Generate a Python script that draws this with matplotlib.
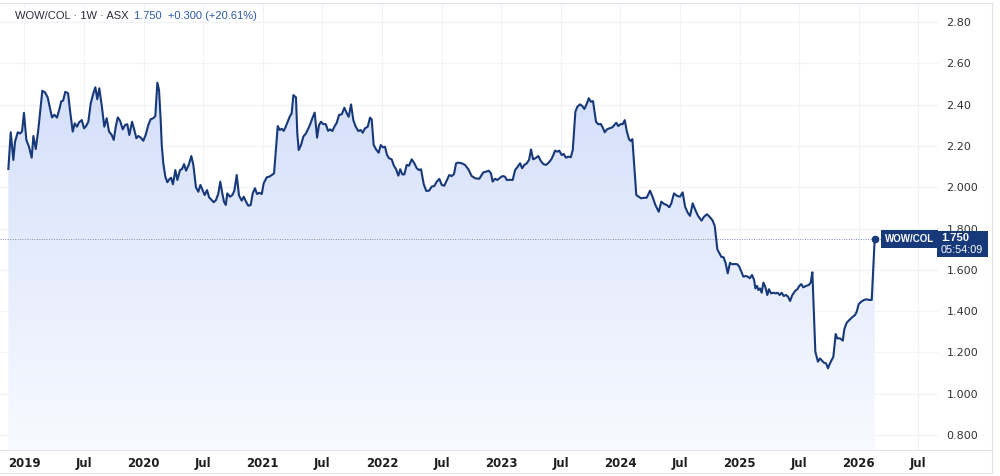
"""
WOW/COL weekly ratio chart (ASX), TradingView-style area plot
"""
import matplotlib
matplotlib.use('Agg')
import matplotlib.pyplot as plt
import numpy as np
from matplotlib.colors import LinearSegmentedColormap
from matplotlib.lines import Line2D
from matplotlib.patches import Rectangle
from matplotlib.transforms import IdentityTransform

# weekly closes, x as decimal year
dates = [
    2018.866, 2018.886, 2018.908, 2018.922, 2018.945, 2018.964, 2018.981, 2018.997,
    2019.017, 2019.039, 2019.062, 2019.076, 2019.096, 2019.117, 2019.134, 2019.151,
    2019.174, 2019.196, 2019.216, 2019.232, 2019.252, 2019.274, 2019.294, 2019.310,
    2019.325, 2019.344, 2019.367, 2019.383, 2019.406, 2019.423, 2019.442, 2019.459,
    2019.482, 2019.501, 2019.518, 2019.537, 2019.557, 2019.579, 2019.596, 2019.612,
    2019.629, 2019.649, 2019.671, 2019.691, 2019.711, 2019.733, 2019.750, 2019.767,
    2019.784, 2019.803, 2019.826, 2019.845, 2019.864, 2019.881, 2019.904, 2019.923,
    2019.940, 2019.956, 2019.977, 2019.998, 2020.018, 2020.040, 2020.060, 2020.082,
    2020.099, 2020.116, 2020.130, 2020.144, 2020.153, 2020.166, 2020.183, 2020.200,
    2020.216, 2020.231, 2020.247, 2020.267, 2020.284, 2020.306, 2020.323, 2020.340,
    2020.357, 2020.379, 2020.401, 2020.418, 2020.440, 2020.460, 2020.477, 2020.497,
    2020.513, 2020.533, 2020.550, 2020.566, 2020.589, 2020.608, 2020.628, 2020.644,
    2020.661, 2020.675, 2020.690, 2020.703, 2020.726, 2020.745, 2020.762, 2020.782,
    2020.801, 2020.824, 2020.841, 2020.860, 2020.879, 2020.899, 2020.916, 2020.935,
    2020.952, 2020.971, 2020.992, 2021.008, 2021.034, 2021.055, 2021.076, 2021.095,
    2021.126, 2021.143, 2021.159, 2021.176, 2021.193, 2021.210, 2021.226, 2021.243,
    2021.257, 2021.279, 2021.290, 2021.302, 2021.321, 2021.341, 2021.363, 2021.383,
    2021.399, 2021.419, 2021.436, 2021.456, 2021.472, 2021.489, 2021.506, 2021.529,
    2021.548, 2021.565, 2021.584, 2021.601, 2021.621, 2021.640, 2021.663, 2021.685,
    2021.705, 2021.721, 2021.741, 2021.760, 2021.780, 2021.802, 2021.822, 2021.839,
    2021.858, 2021.881, 2021.900, 2021.914, 2021.931, 2021.951, 2021.973, 2021.990,
    2022.009, 2022.026, 2022.043, 2022.060, 2022.082, 2022.099, 2022.118, 2022.138,
    2022.154, 2022.171, 2022.188, 2022.208, 2022.227, 2022.250, 2022.269, 2022.292,
    2022.311, 2022.328, 2022.351, 2022.372, 2022.395, 2022.418, 2022.440, 2022.460,
    2022.482, 2022.502, 2022.523, 2022.546, 2022.565, 2022.586, 2022.605, 2022.622,
    2022.641, 2022.669, 2022.697, 2022.725, 2022.753, 2022.783, 2022.817, 2022.851,
    2022.873, 2022.896, 2022.915, 2022.929, 2022.949, 2022.968, 2022.991, 2023.013,
    2023.033, 2023.047, 2023.069, 2023.097, 2023.117, 2023.139, 2023.159, 2023.176,
    2023.195, 2023.215, 2023.234, 2023.251, 2023.268, 2023.287, 2023.312, 2023.332,
    2023.354, 2023.377, 2023.399, 2023.421, 2023.438, 2023.452, 2023.471, 2023.488,
    2023.508, 2023.525, 2023.544, 2023.564, 2023.584, 2023.601, 2023.623, 2023.640,
    2023.662, 2023.681, 2023.698, 2023.718, 2023.735, 2023.752, 2023.771, 2023.785,
    2023.796, 2023.815, 2023.836, 2023.852, 2023.869, 2023.888, 2023.908, 2023.933,
    2023.950, 2023.966, 2023.983, 2024.003, 2024.020, 2024.037, 2024.054, 2024.073,
    2024.087, 2024.101, 2024.134, 2024.154, 2024.176, 2024.199, 2024.221, 2024.249,
    2024.272, 2024.294, 2024.322, 2024.344, 2024.367, 2024.389, 2024.411, 2024.428,
    2024.450, 2024.473, 2024.501, 2024.523, 2024.543, 2024.565, 2024.585, 2024.607,
    2024.629, 2024.652, 2024.681, 2024.702, 2024.727, 2024.753, 2024.775, 2024.792,
    2024.803, 2024.814, 2024.831, 2024.847, 2024.867, 2024.884, 2024.901, 2024.920,
    2024.937, 2024.960, 2024.982, 2024.998, 2025.015, 2025.032, 2025.052, 2025.069,
    2025.086, 2025.105, 2025.122, 2025.133, 2025.147, 2025.158, 2025.172, 2025.186,
    2025.200, 2025.216, 2025.233, 2025.247, 2025.264, 2025.283, 2025.304, 2025.320,
    2025.337, 2025.354, 2025.371, 2025.390, 2025.407, 2025.424, 2025.443, 2025.466,
    2025.485, 2025.502, 2025.518, 2025.535, 2025.558, 2025.580, 2025.597, 2025.611,
    2025.636, 2025.648, 2025.658, 2025.675, 2025.692, 2025.709, 2025.726, 2025.742,
    2025.759, 2025.776, 2025.787, 2025.807, 2025.820, 2025.843, 2025.866, 2025.879,
    2025.899, 2025.921, 2025.944, 2025.969, 2025.983, 2026.000, 2026.022, 2026.044,
    2026.067, 2026.089, 2026.109, 2026.134,
]
closes = [
    2.088, 2.266, 2.132, 2.220, 2.266, 2.260, 2.270, 2.360,
    2.229, 2.196, 2.143, 2.248, 2.185, 2.277, 2.374, 2.467,
    2.459, 2.435, 2.382, 2.338, 2.351, 2.337, 2.377, 2.416,
    2.419, 2.462, 2.455, 2.374, 2.269, 2.309, 2.293, 2.314,
    2.325, 2.285, 2.296, 2.317, 2.406, 2.455, 2.484, 2.426,
    2.479, 2.398, 2.293, 2.334, 2.269, 2.253, 2.229, 2.293,
    2.338, 2.322, 2.280, 2.301, 2.305, 2.253, 2.317, 2.277,
    2.237, 2.248, 2.240, 2.225, 2.253, 2.301, 2.329, 2.334,
    2.345, 2.506, 2.471, 2.325, 2.204, 2.116, 2.051, 2.024,
    2.038, 2.046, 2.014, 2.083, 2.035, 2.083, 2.088, 2.112,
    2.080, 2.108, 2.151, 2.108, 1.999, 1.978, 2.011, 1.983,
    1.962, 1.986, 1.951, 1.941, 1.927, 1.938, 1.970, 2.027,
    1.970, 1.930, 1.914, 1.970, 1.954, 1.962, 1.983, 2.059,
    1.960, 1.935, 1.954, 1.930, 1.910, 1.914, 1.970, 1.995,
    1.967, 1.973, 1.967, 2.019, 2.048, 2.051, 2.059, 2.067,
    2.296, 2.277, 2.283, 2.273, 2.293, 2.317, 2.341, 2.358,
    2.446, 2.435, 2.261, 2.180, 2.204, 2.245, 2.261, 2.285,
    2.306, 2.338, 2.361, 2.240, 2.301, 2.317, 2.306, 2.305,
    2.273, 2.280, 2.272, 2.293, 2.312, 2.350, 2.353, 2.385,
    2.358, 2.341, 2.401, 2.325, 2.293, 2.272, 2.277, 2.264,
    2.285, 2.293, 2.337, 2.329, 2.204, 2.183, 2.167, 2.204,
    2.193, 2.196, 2.156, 2.140, 2.135, 2.106, 2.088, 2.056,
    2.087, 2.062, 2.062, 2.108, 2.104, 2.135, 2.119, 2.092,
    2.083, 2.087, 2.014, 1.982, 1.983, 2.003, 2.006, 2.027,
    2.040, 2.011, 2.007, 2.035, 2.059, 2.054, 2.064, 2.116,
    2.119, 2.116, 2.108, 2.087, 2.054, 2.043, 2.041, 2.072,
    2.075, 2.080, 2.067, 2.027, 2.041, 2.035, 2.046, 2.054,
    2.051, 2.035, 2.036, 2.035, 2.083, 2.099, 2.116, 2.092,
    2.108, 2.116, 2.132, 2.183, 2.135, 2.140, 2.151, 2.128,
    2.112, 2.108, 2.119, 2.135, 2.156, 2.177, 2.172, 2.177,
    2.156, 2.161, 2.143, 2.148, 2.145, 2.180, 2.366, 2.390,
    2.401, 2.393, 2.379, 2.403, 2.431, 2.414, 2.417, 2.361,
    2.317, 2.305, 2.306, 2.290, 2.266, 2.280, 2.285, 2.290,
    2.301, 2.312, 2.296, 2.306, 2.305, 2.325, 2.272, 2.232,
    2.224, 2.233, 1.962, 1.954, 1.946, 1.949, 1.949, 1.983,
    1.951, 1.914, 1.881, 1.930, 1.919, 1.914, 1.903, 1.922,
    1.970, 1.959, 1.954, 1.975, 1.906, 1.877, 1.861, 1.922,
    1.890, 1.861, 1.838, 1.857, 1.869, 1.854, 1.838, 1.812,
    1.753, 1.699, 1.680, 1.663, 1.660, 1.631, 1.583, 1.634,
    1.627, 1.628, 1.627, 1.615, 1.591, 1.567, 1.570, 1.567,
    1.559, 1.575, 1.551, 1.510, 1.522, 1.502, 1.510, 1.489,
    1.538, 1.518, 1.478, 1.506, 1.486, 1.489, 1.486, 1.489,
    1.478, 1.489, 1.473, 1.478, 1.470, 1.449, 1.478, 1.497,
    1.506, 1.522, 1.531, 1.515, 1.522, 1.526, 1.538, 1.588,
    1.203, 1.176, 1.155, 1.171, 1.160, 1.150, 1.147, 1.123,
    1.147, 1.167, 1.179, 1.289, 1.268, 1.268, 1.257, 1.312,
    1.344, 1.357, 1.370, 1.381, 1.397, 1.434, 1.446, 1.454,
    1.457, 1.454, 1.454, 1.750,
]

y_ticks = [2.8, 2.6, 2.4, 2.2, 2.0, 1.8, 1.6, 1.4, 1.2, 1.0, 0.8]
y_labels = ['2.80', '2.60', '2.40', '2.20', '2.000', '1.800', '1.600',
            '1.400', '1.200', '1.000', '0.800']
x_ticks = [2019, 2019.5, 2020, 2020.5, 2021, 2021.5, 2022, 2022.5,
           2023, 2023.5, 2024, 2024.5, 2025, 2025.5, 2026, 2026.5]
x_labels = ['2019', 'Jul', '2020', 'Jul', '2021', 'Jul', '2022', 'Jul',
            '2023', 'Jul', '2024', 'Jul', '2025', 'Jul', '2026', 'Jul']

symbol = 'WOW/COL'
header = 'WOW/COL \u00b7 1W \u00b7 ASX'
last_close = 1.750
change = 0.300
change_pct = 20.61
clock = '05:54:09'

LINE = '#17397a'
GRID = '#f0f3f8'
FRAME = '#e0e3eb'
LABEL_FONT = ['Liberation Sans', 'DejaVu Sans']

W, H = 1000, 476
fig = plt.figure(figsize=(W / 100, H / 100), dpi=100)
fig.patch.set_facecolor('white')
# plot area: pixels 0..938 across, 3..450 down
ax = fig.add_axes([0, 1 - 450 / H, 938 / W, 447 / H])
xlim = (2018.796, 2026.665)
ylim = (0.7274, 2.892)

# gradient area under the line
grad = np.linspace(0, 1, 256).reshape(-1, 1)
cmap = LinearSegmentedColormap.from_list('area', ['#f8faff', '#ccd9f9'])
im = ax.imshow(grad, extent=[xlim[0], xlim[1], ylim[0], ylim[1]], origin='lower',
               cmap=cmap, aspect='auto', zorder=1, interpolation='bilinear')
poly = ax.fill_between(dates, closes, ylim[0], color='none', lw=0)
im.set_clip_path(poly.get_paths()[0], transform=ax.transData)

ax.axhline(last_close, color='#7d8fb3', lw=0.7, ls=(0, (1, 1.5)), zorder=2)
ax.plot(dates, closes, color=LINE, lw=1.5, zorder=3, solid_joinstyle='round')
ax.plot(dates[-1], closes[-1], 'o', ms=4.5, color=LINE, zorder=4)

ax.set_xlim(*xlim)
ax.set_ylim(*ylim)
ax.set_xticks(x_ticks, x_labels)
ax.set_yticks(y_ticks, y_labels)
ax.yaxis.tick_right()
ax.tick_params(axis='y', length=0, pad=6, labelsize=8, labelcolor='#333333')
ax.tick_params(axis='x', length=0, pad=5, labelsize=8.5, labelcolor='#1e1e1e')
for lab in ax.get_xticklabels():
    lab.set_family(['Liberation Sans Narrow', 'DejaVu Sans'])
    lab.set_fontweight('bold')
ax.grid(True, color=GRID, lw=0.8, zorder=0)
ax.set_axisbelow(True)
for s in ax.spines.values():
    s.set_visible(False)

# chart frame
for xs, ys in [([0, 992], [473, 473]), ([0, 992], [3, 3]),
               ([992, 992], [3, 473]), ([0, 992], [450, 450])]:
    fig.add_artist(Line2D([x / W for x in xs], [1 - y / H for y in ys],
                          transform=fig.transFigure, color=FRAME, lw=0.8))

# last value labels
px, py = ax.transData.transform((dates[-1], last_close))
ident = IdentityTransform()
ax.annotate(symbol, xy=(dates[-1], last_close), xytext=(10, 0),
            textcoords='offset pixels', va='center', ha='left',
            family=LABEL_FONT, fontsize=7, fontweight='bold', color='white',
            zorder=6, bbox=dict(boxstyle='square,pad=0.38', fc=LINE, ec='none'),
            annotation_clip=False)
fig.add_artist(Rectangle((937, py - 18), 51, 26, transform=ident,
                         fc=LINE, ec='none', zorder=5))
fig.text(941, py + 1, '{:.3f}'.format(last_close), transform=ident,
         family=LABEL_FONT, fontsize=8, fontweight='bold', color='white',
         va='center', ha='left', zorder=6)
fig.text(941, py - 11, clock, transform=ident, family=LABEL_FONT,
         fontsize=7.8, color='white', va='center', ha='left', zorder=6)

# header
t1 = fig.text(15 / W, 1 - 16 / H, header, family=LABEL_FONT, fontsize=8,
              color='#2a2e39', va='center', ha='left')
renderer = fig.canvas.get_renderer()
bb = t1.get_window_extent(renderer)
fig.text((bb.x1 + 6) / W, 1 - 16 / H,
         '{:.3f}  +{:.3f} (+{:.2f}%)'.format(last_close, change, change_pct),
         family=LABEL_FONT, fontsize=8, color='#2c5aa8', va='center', ha='left')

fig.savefig('out.png', dpi=100)
